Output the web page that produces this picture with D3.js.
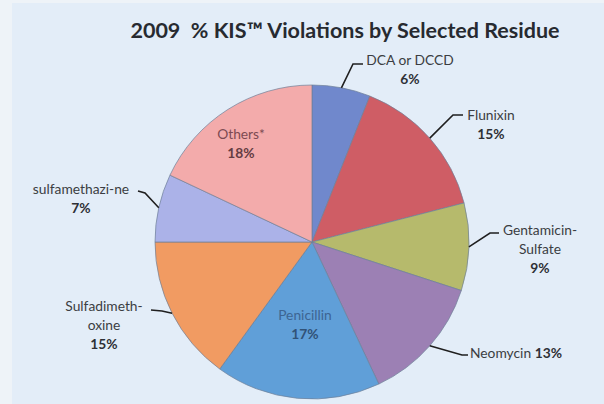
<!DOCTYPE html>
<html>
<head>
<meta charset="utf-8">
<script src="https://cdn.jsdelivr.net/npm/d3@7"></script>
<style>
  html, body { margin: 0; padding: 0; background: #e3edf8; }
  svg { display: block; }
</style>
</head>
<body>
<svg id="chart" width="604" height="404"></svg>
<script>
// Residue categories, clockwise from 12 o'clock
const residues = ["DCA or DCCD", "Flunixin", "Gentamicin-Sulfate", "Neomycin",
                  "Penicillin", "Sulfadimeth-oxine", "sulfamethazi-ne", "Others*"];
// Share of KIS violations, percent
const shares = [6, 15, 9, 13, 17, 15, 7, 18];
// Slice fills
const sliceColors = ["#7088cc", "#cf5d65", "#b6ba6c", "#9c80b4",
                     "#609fd8", "#f19b62", "#abb2e8", "#f3abab"];

const titleText = "2009\u00a0 % KIS\u2122 Violations by Selected Residue";

// Label placement: text lines, text centre, leader elbow and end
const labelLayout = [
  { lines: ["DCA or DCCD"], x: 410, y: 59, elbow: [353, 64], end: [363, 64] },
  { lines: ["Flunixin"], x: 491, y: 114, elbow: [453, 115], end: [463, 115] },
  { lines: ["Gentamicin-", "Sulfate"], x: 540, y: 229, elbow: [490, 233], end: [499, 233] },
  { lines: ["Neomycin"], x: 470, y: 352, inline: true, elbow: [462, 355], end: [468, 355] },
  { lines: ["Penicillin"], x: 305, y: 314, inside: true, color: "#3d6593" },
  { lines: ["Sulfadimeth-", "oxine"], x: 104, y: 305, elbow: [162, 311], end: [151, 310] },
  { lines: ["sulfamethazi-ne"], x: 81, y: 188, elbow: [145, 193], end: [138, 191] },
  { lines: ["Others*"], x: 241, y: 133, inside: true, color: "#7c4a52" }
];

const W = 604, H = 404;
const cx = 312, cy = 242, R = 157;
const font = "Lato, 'Open Sans', sans-serif";
const labelSize = 13.8;
const lineGap = 19;

const svg = d3.select("#chart");

// light frame edge
svg.append("rect").attr("x", 0).attr("y", 0).attr("width", W).attr("height", H).attr("fill", "#eef3f8");
svg.append("rect").attr("x", 12).attr("y", 3).attr("width", W - 12).attr("height", H - 3).attr("fill", "#e3edf8");

svg.append("text")
  .attr("x", 345).attr("y", 38)
  .attr("text-anchor", "middle")
  .attr("font-family", font)
  .attr("font-weight", "bold")
  .attr("font-size", 21.5)
  .attr("fill", "#272a30")
  .text(titleText);

const pie = d3.pie().value(d => d).sort(null)
  .startAngle(0).endAngle(2 * Math.PI);
const arcs = pie(shares);
const arc = d3.arc().innerRadius(0).outerRadius(R);

const g = svg.append("g").attr("transform", `translate(${cx},${cy})`);
g.selectAll("path.slice")
  .data(arcs)
  .join("path")
  .attr("class", "slice")
  .attr("d", arc)
  .attr("fill", (d, i) => sliceColors[i])
  .attr("stroke", "#6f7f98")
  .attr("stroke-width", 0.7);

// leader lines from the arc's mid-angle on the rim
const labelsG = svg.append("g");
arcs.forEach((a, i) => {
  const L = labelLayout[i];
  if (L.inside) return;
  const mid = (a.startAngle + a.endAngle) / 2;
  const sx = cx + R * Math.sin(mid), sy = cy - R * Math.cos(mid);
  labelsG.append("path")
    .attr("d", d3.line()([[sx, sy], L.elbow, L.end]))
    .attr("fill", "none")
    .attr("stroke", "#1f1f1f")
    .attr("stroke-width", 1.6);
});

// label text
arcs.forEach((a, i) => {
  const L = labelLayout[i];
  const pct = shares[i] + "%";
  const color = L.color || "#3b3d42";
  if (L.inline) {
    const t = labelsG.append("text")
      .attr("x", L.x).attr("y", L.y)
      .attr("dominant-baseline", "central")
      .attr("font-family", font).attr("font-size", labelSize)
      .attr("fill", color);
    t.append("tspan").text(L.lines[0] + "\u00a0");
    t.append("tspan").attr("font-weight", "bold").attr("fill", "#2e3035").text(pct);
    return;
  }
  L.lines.forEach((ln, k) => {
    labelsG.append("text")
      .attr("x", L.x).attr("y", L.y + k * lineGap)
      .attr("text-anchor", "middle")
      .attr("dominant-baseline", "central")
      .attr("font-family", font).attr("font-size", labelSize)
      .attr("fill", color)
      .text(ln);
  });
  labelsG.append("text")
    .attr("x", L.x).attr("y", L.y + L.lines.length * lineGap)
    .attr("text-anchor", "middle")
    .attr("dominant-baseline", "central")
    .attr("font-family", font).attr("font-size", labelSize)
    .attr("font-weight", "bold")
    .attr("fill", L.inside ? d3.color(color).darker(0.6) : "#2e3035")
    .text(pct);
});
</script>
</body>
</html>
